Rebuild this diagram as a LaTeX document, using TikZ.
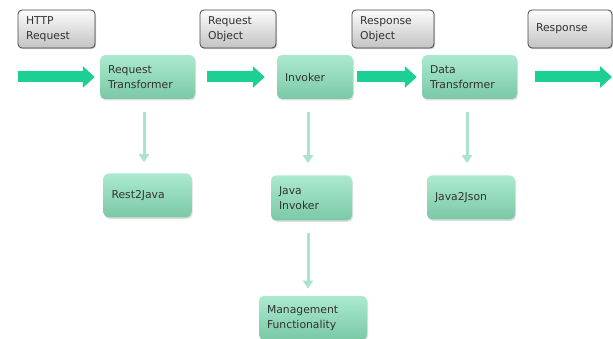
\documentclass[tikz,border=0pt]{standalone}
\usepackage{fontspec}
\setsansfont{DejaVu Sans}
\usetikzlibrary{arrows.meta, positioning, shadows}
\definecolor{flow}{RGB}{28, 208, 148}
\definecolor{branch}{RGB}{170, 228, 204}
\definecolor{stagetop}{RGB}{172, 234, 208}
\definecolor{stagebottom}{RGB}{122, 200, 166}
\definecolor{tagtop}{RGB}{252, 252, 252}
\definecolor{tagbottom}{RGB}{195, 195, 195}
\definecolor{tagborder}{RGB}{70, 70, 70}
\definecolor{ink}{RGB}{50, 50, 50}

\begin{document}
\begin{tikzpicture}[
    % Global styles
    x=1pt, y=-1pt,
    font=\sffamily\fontsize{10.8}{15}\selectfont,
    node distance=75pt,
    % Processing stages
    stage/.style={
        rectangle,
        rounded corners=5pt,
        top color=stagetop,
        bottom color=stagebottom,
        draw=none,
        text=ink,
        align=left,
        inner xsep=8pt,
        text width=#1,
        minimum height=44pt,
        drop shadow={opacity=0.25, shadow xshift=1pt, shadow yshift=-1.5pt}
    },
    % Data passed between stages
    tag/.style={
        rectangle,
        rounded corners=4pt,
        top color=tagtop,
        bottom color=tagbottom,
        draw=tagborder,
        line width=0.8pt,
        text=ink,
        align=left,
        inner xsep=8pt,
        text width=#1,
        minimum height=38pt,
        drop shadow={opacity=0.4, shadow xshift=1pt, shadow yshift=-1.2pt}
    },
    flowarrow/.style={
        draw=flow,
        line width=11pt,
        -{Triangle[length=12pt, width=21pt]}
    },
    subarrow/.style={
        draw=branch,
        line width=3pt,
        -{Triangle[length=8pt, width=10pt]}
    }
]

\useasboundingbox (0,0) rectangle (613,339);

% --- Nodes ---

% Main pipeline
\node (req_trans) [stage=79pt] at (147.5,77) {Request\\Transformer};
\node (invoker) [stage=60pt] at (315,77) {Invoker};
\node (data_trans) [stage=79pt] at (469.5,77) {Data\\Transformer};

% Data labels
\node (http_req) [tag=61pt] at (56.5,29) {HTTP\\Request};
\node (req_obj) [tag=60pt] at (238,29) {Request\\Object};
\node (resp_obj) [tag=66pt] at (393,29) {Response\\Object};
\node (resp) [tag=68pt] at (570,29) {Response};

% Helpers
\node (rest2java) [stage=72pt, below=74pt of req_trans] {Rest2Java};
\node (java_inv) [stage=65pt, below=76pt of invoker, xshift=-3.5pt, minimum height=45pt] {Java\\Invoker};
\node (mgmt) [stage=92pt, below=75pt of java_inv, xshift=1.5pt] {Management\\Functionality};
\node (java2json) [stage=72pt, below=76pt of data_trans, xshift=1.5pt] {Java2Json};

% Free ends of the pipeline
\coordinate (in) at (18,77);
\coordinate (out) at (612,77);

% --- Edges ---

% Main flow
\draw [flowarrow, shorten >=5pt] (in) -- (req_trans);
\draw [flowarrow, shorten <=12pt, shorten >=12pt] (req_trans) -- (invoker);
\draw [flowarrow, shorten <=4pt, shorten >=5pt] (invoker) -- (data_trans);
\draw [flowarrow, shorten <=18pt] (data_trans) -- (out);

% Calls into helpers (drawn a little left of centre)
\draw [subarrow, shorten <=13pt, shorten >=11pt] ([xshift=-3.5pt]req_trans.south) -- ([xshift=-3.5pt]req_trans.south |- rest2java.north);
\draw [subarrow, shorten <=13pt, shorten >=12pt] ([xshift=-7pt]invoker.south) -- ([xshift=-7pt]invoker.south |- java_inv.north);
\draw [subarrow, shorten <=12pt, shorten >=7pt] ([xshift=-3.5pt]java_inv.south) -- ([xshift=-3.5pt]java_inv.south |- mgmt.north);
\draw [subarrow, shorten <=13pt, shorten >=12pt] ([xshift=-2.5pt]data_trans.south) -- ([xshift=-2.5pt]data_trans.south |- java2json.north);

\end{tikzpicture}
\end{document}
